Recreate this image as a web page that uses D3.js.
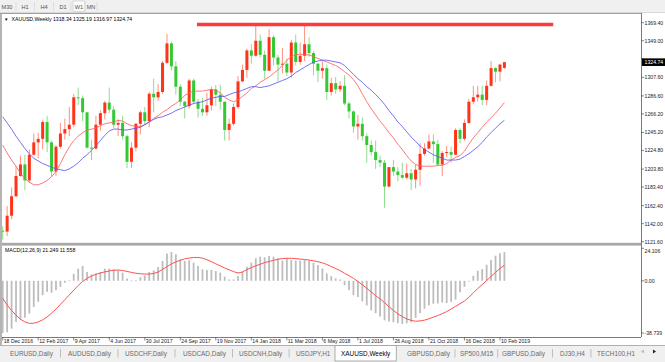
<!DOCTYPE html>
<html><head><meta charset="utf-8">
<script src="https://cdn.jsdelivr.net/npm/d3@7"></script>
<style>
html,body{margin:0;padding:0;background:#f0f0f0;overflow:hidden;}
svg{display:block;}
text{font-family:"Liberation Sans",Arial,sans-serif;}
</style></head><body>
<svg id="c" width="665" height="362"></svg>
<script>
// ---------- data (weekly XAUUSD, bar 0 = week of 18 Dec 2016) ----------
const open  = [1134,1133,1151,1173,1196,1209,1191,1220,1234,1238,1257,1234,1201,1229,1244,1249,1254,1285,1284,1268,
               1228,1227,1254,1267,1279,1271,1254,1256,1241,1212,1228,1255,1268,1258,1289,1285,1291,1324,1346,1320,
               1297,1280,1275,1304,1280,1272,1268,1276,1294,1288,1280,1248,1255,1274,1303,1316,1338,1332,1349,1333,
               1315,1353,1330,1322,1323,1313,1347,1325,1332,1345,1335,1323,1315,1318,1291,1301,1294,1298,1278,1269,
               1252,1255,1241,1231,1223,1214,1211,1184,1206,1201,1197,1194,1199,1192,1203,1221,1227,1235,1232,1209,
               1222,1223,1220,1248,1238,1256,1280,1285,1288,1282,1298,1318,1314,1318.34];
const high  = [1139,1162,1183,1207,1219,1220,1226,1244,1245,1259,1264,1236,1231,1256,1261,1274,1289,1296,1287,1268,
               1237,1264,1270,1281,1296,1275,1260,1264,1243,1234,1256,1270,1274,1291,1306,1300,1326,1357,1348,1326,
               1300,1281,1306,1306,1283,1284,1290,1297,1299,1299,1280,1261,1278,1309,1322,1340,1345,1366,1356,1338,
               1362,1355,1333,1341,1329,1350,1356,1347,1366,1353,1337,1324,1326,1322,1307,1308,1303,1310,1280,1270,
               1265,1262,1244,1236,1236,1219,1214,1206,1214,1206,1211,1210,1204,1209,1233,1233,1243,1243,1237,1224,
               1230,1229,1250,1250,1260,1283,1298,1298,1298,1304,1326,1319,1323,1325.19];
const low   = [1124,1128,1147,1172,1195,1180,1188,1219,1216,1226,1223,1195,1196,1227,1237,1241,1251,1276,1258,1227,
               1214,1226,1247,1260,1267,1250,1241,1237,1205,1205,1224,1243,1254,1251,1268,1281,1289,1323,1315,1288,
               1275,1261,1272,1277,1262,1264,1264,1270,1275,1271,1236,1236,1253,1272,1302,1307,1323,1331,1330,1306,
               1315,1321,1303,1312,1309,1307,1321,1322,1326,1331,1310,1302,1306,1282,1287,1289,1291,1276,1261,1245,
               1237,1236,1211,1219,1204,1206,1160,1183,1196,1190,1193,1192,1180,1182,1185,1219,1226,1211,1207,1196,
               1217,1211,1220,1233,1236,1255,1277,1280,1276,1276,1297,1302,1303,1316.97];
const close = [1133,1151,1173,1196,1209,1191,1220,1234,1238,1257,1234,1201,1229,1244,1249,1254,1285,1284,1268,1228,
               1227,1254,1267,1279,1271,1254,1256,1241,1212,1228,1255,1268,1258,1289,1285,1291,1324,1346,1320,1297,
               1280,1275,1304,1280,1272,1268,1276,1294,1288,1280,1248,1255,1274,1303,1316,1338,1332,1349,1333,1315,
               1353,1330,1322,1323,1313,1347,1325,1332,1345,1335,1323,1315,1318,1291,1301,1294,1298,1278,1269,1252,
               1255,1241,1231,1223,1214,1211,1184,1206,1201,1197,1194,1199,1192,1203,1221,1227,1235,1232,1209,1222,
               1223,1220,1248,1238,1256,1280,1285,1288,1282,1298,1318,1314,1322,1324.74];
const maFast = [1231,1222,1214,1207,1199,1193,1189,1186,1186,1188,1191,1195,1201,1210,1220,1229,1236,1241,1245,1248,
                1249,1250,1253,1255,1256,1257,1259,1258,1255,1253,1252,1252,1254,1257,1261,1264,1268,1271,1275,1278,
                1282,1287,1290,1292,1292,1292,1293,1294,1293,1290,1285,1282,1280,1282,1286,1290,1295,1298,1302,1305,
                1308,1312,1316,1321,1327,1331,1333,1334,1333,1333,1331,1329,1327,1325,1323,1321,1318,1314,1310,1305,
                1298,1289,1280,1272,1265,1258,1252,1245,1239,1232,1226,1219,1213,1209,1207,1207,1207,1207,1208,1208,
                1210,1214,1217,1219,1224,1232,1239,1245,1251,1257,1262,1267,1273,1279];
const maSlow = [1263,1256,1249,1241,1234,1227,1221,1216,1213,1210,1208,1206,1204,1203,1202,1204,1207,1211,1216,1220,
                1225,1230,1236,1242,1247,1249,1249,1248,1248,1249,1250,1251,1254,1257,1260,1262,1263,1265,1267,1270,
                1272,1274,1276,1278,1279,1280,1282,1284,1285,1286,1286,1288,1290,1291,1293,1295,1297,1297,1296,1297,
                1298,1300,1302,1304,1306,1309,1313,1316,1319,1322,1325,1326,1327,1327,1326,1325,1324,1321,1316,1311,
                1306,1302,1297,1293,1288,1283,1277,1270,1264,1257,1252,1246,1240,1235,1230,1226,1223,1220,1218,1216,
                1214,1214,1214,1215,1218,1221,1225,1229,1234,1240,1245,1250,1255,1259];
const macdMain = [-38.739,-38.2,-35.5,-30.5,-28.8,-27.3,-24.3,-19.4,-15.6,-10.7,-8.2,-8.9,-7.0,-4.5,-1.5,0.3,5.2,9,11,6.5,
                  4.7,5.5,6.5,9,9,8.5,7.7,6,1.7,0.2,0.3,2.7,4,6.5,7.7,10.2,14.7,20.2,21.4,19.7,
                  16,14.7,15.2,13.4,11,8.5,8,8,7.2,6,3,1,1,3.5,6.7,10.4,13.4,16.7,17.9,17.4,
                  18.4,17.9,16.7,15,16.7,15.4,15,15,15.4,15,13.4,11.7,9.2,5.5,3.5,1.8,1,-3.3,-7,-10.7,
                  -12,-15.3,-18.3,-22,-24,-26.5,-29.4,-30.2,-30.7,-31.5,-32,-31.5,-30.7,-27.5,-24,-20.7,-18.3,-17,-16.8,-16.2,
                  -16.5,-15.6,-13.9,-8.5,-4.5,-0.5,3.7,7.4,8.7,11.9,15.4,18.6,20.4,21.249];
const macdSignal = [-13,-18,-22,-25.5,-28.5,-30.5,-31.6,-31.5,-30.5,-29,-26.8,-24,-21,-17.5,-14,-10.5,-7,-3.5,-0.5,1.8,
                    3.5,4.8,5.8,6.6,7.3,7.8,8.0,7.6,7.0,6.2,5.6,5.2,5.0,5.0,5.4,6.5,8.5,10.5,12.5,14,
                    15.2,16.3,16.9,17.3,17.3,16.8,15.6,14.2,12.6,11,9.5,8.2,6.8,5.8,6.5,8.3,9.8,11.1,12.3,13.5,
                    14.3,15.2,16,16.5,16.7,16.7,16.4,16.1,15.8,15.4,14.8,14.2,13.3,12.1,10.6,9.1,7.5,5.6,3.8,1.8,
                    -0.5,-3,-5.5,-8.3,-11,-13.5,-16.2,-19.2,-22,-24.6,-26.6,-28.3,-29.4,-30,-29.8,-29.2,-28.2,-27,-25.8,-24.4,
                    -22.8,-21,-19,-17,-15,-12.2,-9,-5.7,-2.8,0.2,3.2,6.3,9.1,11.558];
const dateTickBars = [0,8,16,24,32,40,48,56,64,72,80,88,96,104,112];
const dateTickLabels = ["18 Dec 2016","12 Feb 2017","9 Apr 2017","4 Jun 2017","30 Jul 2017","24 Sep 2017","19 Nov 2017",
                        "14 Jan 2018","11 Mar 2018","6 May 2018","1 Jul 2018","26 Aug 2018","21 Oct 2018","16 Dec 2018","10 Feb 2019"];
const priceTicks = [1369.40,1349.00,1328.60,1307.60,1286.60,1266.20,1245.20,1224.80,1203.80,1183.40,1162.40,1142.00,1121.60];
const macdTicks = [24.106,0.00,-38.739];
const lastPrice = 1324.74;
const resistanceBars = [43.75,124];
const resistancePrice = [1367.4,1367.4];
const timeframes = ["M30","H1","H4","D1","W1","MN"];
const activeTimeframe = "W1";
const tabs = ["EURUSD,Daily","AUDUSD,Daily","USDCHF,Daily","USDCAD,Daily","USDCNH,Daily","USDJPY,H1",
              "XAUUSD,Weekly","GBPUSD,Daily","SP500,M15","GBPUSD,Daily","DJ30,H4","TECH100,H1"];
const activeTab = "XAUUSD,Weekly";
const title = "XAUUSD,Weekly";
const macdTitle = "MACD(12,26,9)";

// ---------- layout ----------
const W = 665, H = 362;
const plotL = 2, plotR = 641, mainT = 14, mainB = 243, macdT = 246, macdB = 337;
const tabLeft = [10,68,125,183,239,296,341,407,460,502,560,597];
const svg = d3.select("#c");
const x  = d3.scaleLinear().domain([0, 113]).range([2.7, 504.4]);
const y  = d3.scaleLinear().domain([1121.6, 1369.4]).range([241.7, 22.7]);
const ym = d3.scaleLinear().domain([-38.739, 24.106]).range([333, 248.3]);
const n = close.length;
const idx = d3.range(n);

svg.append("rect").attr("width", W).attr("height", H).attr("fill", "#f0f0f0");
svg.append("rect").attr("x", plotL).attr("y", 13).attr("width", W - plotL).attr("height", 332).attr("fill", "#fff");

const defs = svg.append("defs");
defs.append("clipPath").attr("id", "cm").append("rect")
  .attr("x", plotL).attr("y", mainT).attr("width", plotR - plotL).attr("height", mainB - mainT);
defs.append("clipPath").attr("id", "cd").append("rect")
  .attr("x", plotL).attr("y", macdT).attr("width", plotR - plotL).attr("height", macdB - macdT);

// ---------- toolbar ----------
const tfX = [7, 25, 44, 63, 79, 91];
const tb = svg.append("g");
tb.append("line").attr("x1",0).attr("x2",W).attr("y1",12.5).attr("y2",12.5).attr("stroke","#d8d8d8");
timeframes.forEach((t, k) => {
  if (t === activeTimeframe) {
    tb.append("rect").attr("x", tfX[k]-6).attr("y", 1).attr("width", 12).attr("height", 10.5)
      .attr("fill", "#fafafa").attr("stroke", "#c8c8c8").attr("stroke-width", 0.6);
  }
  tb.append("text").attr("x", tfX[k]).attr("y", 8.6).attr("text-anchor", "middle")
    .attr("font-size", 5.6).attr("fill", "#555").text(t);
  const sx = tfX[k] + (k < timeframes.length - 1 ? (tfX[k+1]-tfX[k])/2 : 6);
  tb.append("line").attr("x1", sx).attr("x2", sx)
    .attr("y1", 2).attr("y2", 11).attr("stroke", "#d0d0d0").attr("stroke-width", 0.6);
});

// ---------- main chart ----------
const gm = svg.append("g").attr("clip-path", "url(#cm)");
const up = i => close[i] >= open[i];
gm.selectAll("line.wick").data(idx).join("line")
  .attr("x1", i => x(i)).attr("x2", i => x(i))
  .attr("y1", i => y(high[i])).attr("y2", i => y(low[i]))
  .attr("stroke", i => up(i) ? "#ff9080" : "#8fdc8f").attr("stroke-width", 1);
gm.selectAll("rect.body").data(idx).join("rect")
  .attr("x", i => x(i) - 1.5).attr("width", 3)
  .attr("y", i => y(Math.max(open[i], close[i])))
  .attr("height", i => Math.max(Math.abs(y(open[i]) - y(close[i])), 1))
  .attr("fill", i => up(i) ? "#ff3319" : "#33c933");

const lineGen = arr => d3.line().x((d, i) => x(i)).y(d => y(d))(arr);
gm.append("path").attr("d", lineGen(maFast)).attr("fill", "none").attr("stroke", "#ff6060").attr("stroke-width", 1).attr("opacity", 0.85);
gm.append("path").attr("d", lineGen(maSlow)).attr("fill", "none").attr("stroke", "#5a5af0").attr("stroke-width", 1).attr("opacity", 0.85);

gm.append("line")
  .attr("x1", x(resistanceBars[0])).attr("x2", x(resistanceBars[1]))
  .attr("y1", y(resistancePrice[0])).attr("y2", y(resistancePrice[1]))
  .attr("stroke", "#ff3a3a").attr("stroke-width", 3.5);

svg.append("text").attr("x", 4).attr("y", 20.6).attr("font-size", 4.5).attr("fill", "#000").text("▼");
svg.append("text").attr("x", 11.5).attr("y", 20.8).attr("font-size", 5.2).attr("fill", "#000")
  .text(`${title}  ${open[n-1].toFixed(2)} ${high[n-1].toFixed(2)} ${low[n-1].toFixed(2)} ${close[n-1].toFixed(2)}`);

// ---------- MACD ----------
const gd = svg.append("g").attr("clip-path", "url(#cd)");
gd.selectAll("rect.h").data(idx).join("rect")
  .attr("x", i => x(i) - 0.9).attr("width", 1.8)
  .attr("y", i => Math.min(ym(macdMain[i]), ym(0)))
  .attr("height", i => Math.max(Math.abs(ym(macdMain[i]) - ym(0)), 0.8))
  .attr("fill", "#bdbdbd");
gd.append("path").attr("d", d3.line().x((d, i) => x(i)).y(d => ym(d))(macdSignal))
  .attr("fill", "none").attr("stroke", "#ff5050").attr("stroke-width", 1);
svg.append("text").attr("x", 5).attr("y", 251.8).attr("font-size", 5.2).attr("fill", "#000")
  .text(`${macdTitle} ${macdMain[n-1].toFixed(3)} ${macdSignal[n-1].toFixed(3)}`);

// ---------- frame ----------
const fr = svg.append("g");
fr.append("line").attr("x1", 0).attr("x2", plotR).attr("y1", 13.5).attr("y2", 13.5).attr("stroke", "#a0a0a0");
fr.append("line").attr("x1", 1).attr("x2", 1).attr("y1", 13).attr("y2", 345).attr("stroke", "#a0a0a0").attr("stroke-width", 1.5);
fr.append("rect").attr("x", plotL).attr("y", 242.8).attr("width", plotR - plotL).attr("height", 2.8).attr("fill", "#a8a8a8");
fr.append("line").attr("x1", plotR + 0.5).attr("x2", plotR + 0.5).attr("y1", 13).attr("y2", macdB).attr("stroke", "#7a7a7a");
fr.append("line").attr("x1", plotL).attr("x2", plotR).attr("y1", macdB + 0.5).attr("y2", macdB + 0.5).attr("stroke", "#7a7a7a");

// price axis (labels colliding with the current-price marker are hidden, as in the terminal)
const pa = svg.append("g");
const yLast = y(lastPrice);
priceTicks.forEach(p => {
  pa.append("line").attr("x1", plotR).attr("x2", plotR + 3).attr("y1", y(p)).attr("y2", y(p)).attr("stroke", "#555").attr("stroke-width", 0.7);
  if (Math.abs(y(p) - yLast) > 7) {
    pa.append("text").attr("x", 644.5).attr("y", y(p) + 1.9).attr("font-size", 5.2).attr("fill", "#222").text(p.toFixed(2));
  }
});
pa.append("rect").attr("x", 642).attr("y", yLast - 3.8).attr("width", 23).attr("height", 7.6).attr("fill", "#000");
pa.append("text").attr("x", 644.5).attr("y", yLast + 1.9).attr("font-size", 5.2).attr("fill", "#fff").text(lastPrice.toFixed(2));

macdTicks.forEach(v => {
  const yy = Math.min(Math.max(ym(v), 250.6), 332.6);
  pa.append("line").attr("x1", plotR).attr("x2", plotR + 3).attr("y1", ym(v)).attr("y2", ym(v)).attr("stroke", "#555").attr("stroke-width", 0.7);
  pa.append("text").attr("x", 644.5).attr("y", yy + 1.9).attr("font-size", 5.2).attr("fill", "#222")
    .text(Math.abs(v) < 1e-9 ? "0.00" : v.toFixed(3));
});

// time axis
const ta = svg.append("g");
dateTickBars.forEach((b, k) => {
  ta.append("line").attr("x1", x(b)).attr("x2", x(b)).attr("y1", macdB).attr("y2", macdB + 3.5).attr("stroke", "#555").attr("stroke-width", 0.7);
  ta.append("text").attr("x", x(b) + 1).attr("y", 342.6).attr("font-size", 5.2).attr("fill", "#222").text(dateTickLabels[k]);
});

// ---------- tabs ----------
const tg = svg.append("g");
tg.append("rect").attr("x", 0).attr("y", 345.5).attr("width", W).attr("height", 16.5).attr("fill", "#f0f0f0");
tg.append("line").attr("x1", 0).attr("x2", W).attr("y1", 345.5).attr("y2", 345.5).attr("stroke", "#b0b0b0");
const tabLayer = tg.append("g");
tabs.forEach((t, k) => {
  const isA = t === activeTab;
  const tx = tabLeft[k];
  const el = tabLayer.append("text").attr("x", tx).attr("y", 355.6).attr("font-size", 6.4)
    .attr("fill", isA ? "#000" : "#6a6a6a").text(t);
  const w = el.node().getComputedTextLength();
  if (isA) {
    tabLayer.insert("rect", "text").attr("x", tx - 6).attr("y", 345.5).attr("width", w + 12).attr("height", 15.5)
      .attr("fill", "#fff").attr("stroke", "#9a9a9a").attr("stroke-width", 0.8);
  }
  if (k < tabs.length - 1 && !isA && tabs[k+1] !== activeTab) {
    const sx = (tx + w + tabLeft[k+1]) / 2;
    tabLayer.append("line").attr("x1", sx).attr("x2", sx).attr("y1", 349).attr("y2", 357.5)
      .attr("stroke", "#a8a8a8").attr("stroke-width", 0.7);
  }
});
tg.append("path").attr("d", "M641,351.5 L644,349.5 L644,353.5 Z").attr("fill", "#bbb");
tg.append("path").attr("d", "M653,349.5 L656,351.5 L653,353.5 Z").attr("fill", "#222");
</script>
</body></html>
